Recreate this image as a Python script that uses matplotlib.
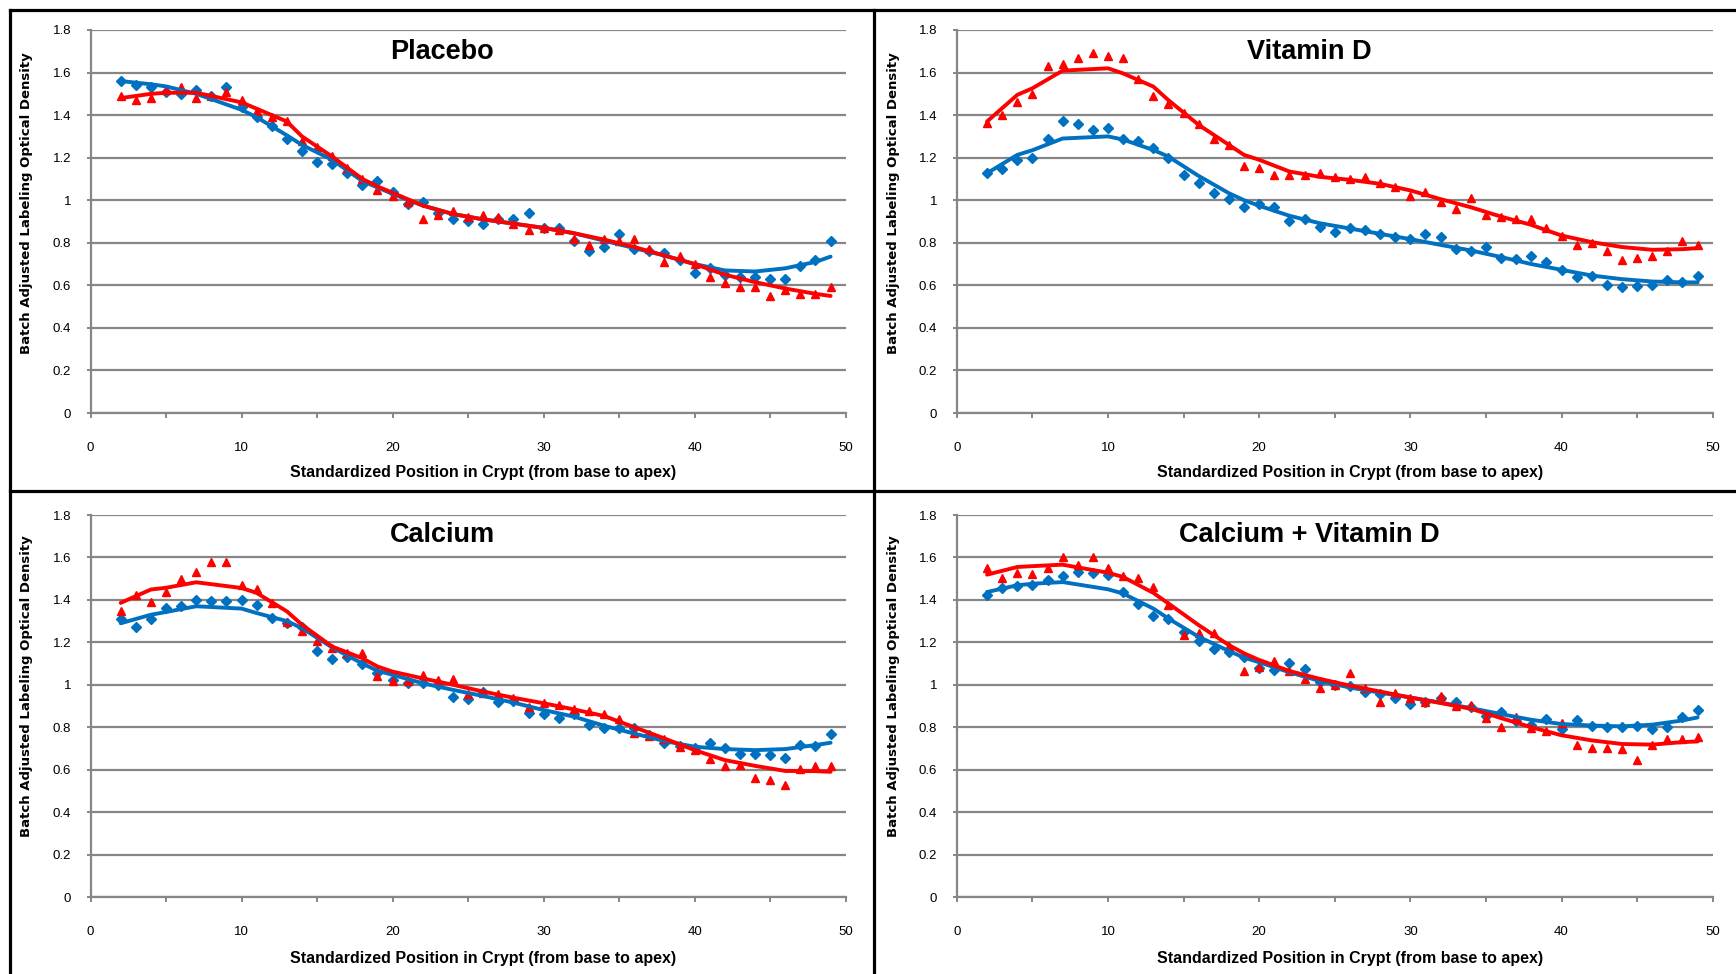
import matplotlib
matplotlib.use("Agg")
import matplotlib.pyplot as plt
from matplotlib.lines import Line2D
from matplotlib.ticker import FixedLocator, FuncFormatter

plt.rcParams['font.family'] = ['Liberation Sans', 'DejaVu Sans']

# positions in crypt for the measured points
POSITIONS = list(range(2, 50))
TREND_X = [2, 4, 5, 7, 10, 11, 13, 14, 16, 18, 19, 20, 22, 24, 26, 28,
           30, 32, 34, 36, 38, 40, 42, 44, 46, 48, 49]

PANEL_TITLES = ["Placebo", "Vitamin D", "Calcium", "Calcium + Vitamin D"]
X_LABEL = "Standardized Position in Crypt (from base to apex)"
Y_LABEL = "Batch Adjusted Labeling Optical Density"

# placebo
PLACEBO_BLUE = [1.56, 1.54, 1.53, 1.51, 1.50, 1.52, 1.49, 1.53, 1.44, 1.39, 1.35, 1.29,
                1.23, 1.18, 1.17, 1.13, 1.07, 1.09, 1.04, 0.98, 0.99, 0.94, 0.91, 0.90,
                0.89, 0.91, 0.91, 0.94, 0.87, 0.87, 0.81, 0.76, 0.78, 0.84, 0.77, 0.76,
                0.75, 0.72, 0.66, 0.68, 0.65, 0.64, 0.64, 0.63, 0.63, 0.69, 0.72, 0.81]
PLACEBO_RED = [1.49, 1.47, 1.48, 1.52, 1.53, 1.48, 1.49, 1.51, 1.47, 1.42, 1.39, 1.37,
               1.28, 1.25, 1.21, 1.15, 1.10, 1.05, 1.02, 0.99, 0.91, 0.93, 0.95, 0.92,
               0.93, 0.92, 0.89, 0.86, 0.87, 0.86, 0.82, 0.79, 0.82, 0.81, 0.82, 0.77,
               0.71, 0.74, 0.70, 0.64, 0.61, 0.59, 0.59, 0.55, 0.58, 0.56, 0.56, 0.59]
PLACEBO_BLUE_TREND = [1.56, 1.545, 1.535, 1.50, 1.425, 1.39, 1.305, 1.26, 1.19, 1.09, 1.06,
                      1.03, 0.975, 0.935, 0.91, 0.89, 0.87, 0.845, 0.81, 0.775, 0.74, 0.70,
                      0.67, 0.665, 0.68, 0.71, 0.735]
PLACEBO_RED_TREND = [1.48, 1.50, 1.505, 1.505, 1.46, 1.43, 1.37, 1.30, 1.205, 1.10, 1.065,
                     1.035, 0.975, 0.935, 0.91, 0.89, 0.87, 0.845, 0.815, 0.78, 0.74, 0.70,
                     0.65, 0.615, 0.585, 0.56, 0.55]

# vitamin d
VITD_BLUE = [1.13, 1.145, 1.19, 1.20, 1.29, 1.37, 1.36, 1.33, 1.34, 1.29, 1.28, 1.245,
             1.20, 1.12, 1.08, 1.035, 1.005, 0.97, 0.98, 0.97, 0.90, 0.91, 0.875, 0.85,
             0.87, 0.86, 0.84, 0.825, 0.82, 0.84, 0.825, 0.77, 0.76, 0.78, 0.73, 0.725,
             0.74, 0.71, 0.67, 0.64, 0.645, 0.60, 0.59, 0.595, 0.60, 0.625, 0.615, 0.645]
VITD_RED = [1.365, 1.40, 1.46, 1.50, 1.63, 1.64, 1.67, 1.69, 1.68, 1.67, 1.57, 1.49,
            1.45, 1.41, 1.36, 1.29, 1.26, 1.16, 1.15, 1.12, 1.12, 1.12, 1.13, 1.11,
            1.10, 1.11, 1.08, 1.06, 1.02, 1.04, 0.99, 0.96, 1.01, 0.93, 0.92, 0.91,
            0.91, 0.87, 0.83, 0.79, 0.80, 0.76, 0.72, 0.73, 0.74, 0.76, 0.81, 0.79]
VITD_BLUE_TREND = [1.127, 1.213, 1.235, 1.29, 1.30, 1.285, 1.236, 1.205, 1.114, 1.033, 1.0,
                   0.974, 0.927, 0.892, 0.867, 0.842, 0.817, 0.79, 0.764, 0.733, 0.70, 0.673,
                   0.646, 0.629, 0.618, 0.614, 0.614]
VITD_RED_TREND = [1.37, 1.495, 1.526, 1.609, 1.62, 1.596, 1.534, 1.47, 1.354, 1.26, 1.213,
                  1.19, 1.135, 1.11, 1.096, 1.077, 1.046, 1.005, 0.967, 0.923, 0.884, 0.834,
                  0.803, 0.78, 0.767, 0.77, 0.775]

# calcium
CALC_BLUE = [1.31, 1.27, 1.31, 1.362, 1.373, 1.40, 1.393, 1.393, 1.40, 1.375, 1.315, 1.29,
             1.27, 1.157, 1.122, 1.129, 1.099, 1.055, 1.023, 1.01, 1.01, 1.0, 0.944, 0.932,
             0.965, 0.92, 0.925, 0.865, 0.86, 0.845, 0.86, 0.81, 0.794, 0.794, 0.797, 0.763,
             0.728, 0.71, 0.703, 0.728, 0.70, 0.673, 0.673, 0.668, 0.653, 0.716, 0.71, 0.766]
CALC_RED = [1.346, 1.425, 1.39, 1.436, 1.50, 1.53, 1.58, 1.58, 1.47, 1.453, 1.387, 1.294,
            1.255, 1.207, 1.173, 1.152, 1.148, 1.042, 1.018, 1.018, 1.045, 1.023, 1.026, 0.957,
            0.963, 0.955, 0.936, 0.897, 0.913, 0.905, 0.884, 0.876, 0.86, 0.84, 0.774, 0.76,
            0.744, 0.708, 0.695, 0.65, 0.616, 0.621, 0.561, 0.55, 0.53, 0.605, 0.616, 0.616]
CALC_BLUE_TREND = [1.29, 1.33, 1.343, 1.37, 1.359, 1.338, 1.30, 1.267, 1.176, 1.10, 1.066,
                   1.047, 1.007, 0.976, 0.947, 0.916, 0.881, 0.85, 0.807, 0.77, 0.735, 0.708,
                   0.697, 0.692, 0.697, 0.716, 0.727]
CALC_RED_TREND = [1.386, 1.449, 1.457, 1.483, 1.456, 1.433, 1.346, 1.283, 1.18, 1.125, 1.086,
                  1.062, 1.03, 1.0, 0.968, 0.939, 0.913, 0.884, 0.853, 0.80, 0.747, 0.692,
                  0.645, 0.618, 0.594, 0.593, 0.59]

# calcium + vitamin d
COMBO_BLUE = [1.425, 1.456, 1.465, 1.472, 1.495, 1.512, 1.531, 1.528, 1.519, 1.437, 1.379, 1.323,
              1.312, 1.25, 1.207, 1.168, 1.156, 1.132, 1.081, 1.07, 1.104, 1.074, 1.012, 1.0,
              0.996, 0.968, 0.956, 0.94, 0.909, 0.921, 0.94, 0.921, 0.896, 0.854, 0.87, 0.827,
              0.812, 0.84, 0.793, 0.832, 0.808, 0.80, 0.80, 0.808, 0.793, 0.80, 0.846, 0.882]
COMBO_RED = [1.551, 1.503, 1.528, 1.522, 1.55, 1.601, 1.566, 1.601, 1.55, 1.511, 1.504, 1.461,
             1.375, 1.234, 1.246, 1.246, 1.184, 1.067, 1.082, 1.112, 1.065, 1.028, 0.984, 1.0,
             1.054, 0.984, 0.921, 0.96, 0.937, 0.921, 0.945, 0.898, 0.906, 0.843, 0.80, 0.846,
             0.796, 0.78, 0.82, 0.718, 0.702, 0.702, 0.698, 0.647, 0.715, 0.746, 0.746, 0.752]
COMBO_BLUE_TREND = [1.437, 1.469, 1.476, 1.484, 1.45, 1.43, 1.359, 1.312, 1.226, 1.159, 1.128,
                    1.106, 1.059, 1.018, 0.987, 0.963, 0.94, 0.916, 0.89, 0.862, 0.835, 0.815,
                    0.808, 0.804, 0.812, 0.832, 0.846]
COMBO_RED_TREND = [1.519, 1.555, 1.559, 1.566, 1.528, 1.508, 1.433, 1.383, 1.281, 1.187, 1.148,
                   1.117, 1.065, 1.028, 0.996, 0.968, 0.94, 0.914, 0.887, 0.843, 0.80, 0.762,
                   0.738, 0.721, 0.718, 0.73, 0.733]

BLUE = '#0070C0'
RED = '#FF0000'
GRID = '#868686'

panels = [
    (PLACEBO_BLUE, PLACEBO_RED, PLACEBO_BLUE_TREND, PLACEBO_RED_TREND),
    (VITD_BLUE, VITD_RED, VITD_BLUE_TREND, VITD_RED_TREND),
    (CALC_BLUE, CALC_RED, CALC_BLUE_TREND, CALC_RED_TREND),
    (COMBO_BLUE, COMBO_RED, COMBO_BLUE_TREND, COMBO_RED_TREND),
]

W, H = 1736, 974
fig = plt.figure(figsize=(W / 100, H / 100), dpi=100)

# pixel layout of each panel: axes box, title centre, x label centre, y label centre
layout = [
    dict(box=(90.5, 30, 845.7, 413), title=(442, 52), xlab=(483, 473), ylab=(27, 203)),
    dict(box=(956.8, 30, 1712.7, 413), title=(1309, 52), xlab=(1350, 473), ylab=(893, 203)),
    dict(box=(90.5, 515, 845.7, 897), title=(442, 535), xlab=(483, 958), ylab=(27, 686)),
    dict(box=(956.8, 515, 1712.7, 897), title=(1309, 535), xlab=(1350, 958), ylab=(893, 686)),
]


def fx(px):
    return px / W


def fy(py):
    return 1 - py / H


for (blue, red, blue_tr, red_tr), title, lay in zip(panels, PANEL_TITLES, layout):
    x0, y0, x1, y1 = lay['box']
    ax = fig.add_axes([fx(x0), fy(y1), fx(x1) - fx(x0), fy(y0) - fy(y1)])

    ax.plot(POSITIONS, blue, linestyle='none', marker='D', markersize=4.6,
            color=BLUE, zorder=3)
    ax.plot(POSITIONS, red, linestyle='none', marker='^', markersize=6.2,
            color=RED, zorder=3)
    ax.plot(TREND_X, blue_tr, color=BLUE, linewidth=2.8, zorder=4,
            solid_joinstyle='round', solid_capstyle='round')
    ax.plot(TREND_X, red_tr, color=RED, linewidth=2.8, zorder=5,
            solid_joinstyle='round', solid_capstyle='round')

    ax.set_xlim(0, 50)
    ax.set_ylim(0, 1.8)
    ax.xaxis.set_major_locator(FixedLocator([0, 10, 20, 30, 40, 50]))
    ax.xaxis.set_minor_locator(FixedLocator([5, 15, 25, 35, 45]))
    ax.yaxis.set_major_locator(FixedLocator([i * 0.2 for i in range(10)]))
    ax.yaxis.set_major_formatter(FuncFormatter(lambda v, p: f"{v:.1f}".rstrip('0').rstrip('.')))

    ax.grid(axis='y', color=GRID, linewidth=1.6, zorder=0)
    ax.set_axisbelow(True)
    for side in ('top', 'right'):
        ax.spines[side].set_visible(False)
    for side in ('left', 'bottom'):
        ax.spines[side].set_color(GRID)
        ax.spines[side].set_linewidth(1.6)

    ax.tick_params(axis='x', which='both', direction='out', length=3.8, width=1.4,
                   color=GRID, pad=17, labelsize=9.5)
    ax.tick_params(axis='y', direction='out', length=3, width=1.4, color=GRID,
                   pad=11, labelsize=9.5)

    fig.text(fx(lay['title'][0]), fy(lay['title'][1]), title, ha='center', va='center',
             fontsize=19.5, fontweight='bold')
    fig.text(fx(lay['xlab'][0]), fy(lay['xlab'][1]), X_LABEL, ha='center', va='center',
             fontsize=11.5, fontweight='bold')
    fig.text(fx(lay['ylab'][0]), fy(lay['ylab'][1]), Y_LABEL, ha='center', va='center',
             rotation=90, fontsize=9.5, fontweight='bold', family='DejaVu Sans')

# black frame lines between the four panels
frame = [
    ((10, 1736), (10, 10)),
    ((10, 10), (10, 974)),
    ((874, 874), (10, 974)),
    ((10, 1736), (491, 491)),
]
for xs, ys in frame:
    fig.add_artist(Line2D([fx(v) for v in xs], [fy(v) for v in ys], color='black',
                          linewidth=2.3, transform=fig.transFigure))

fig.savefig('out.png', dpi=100)
